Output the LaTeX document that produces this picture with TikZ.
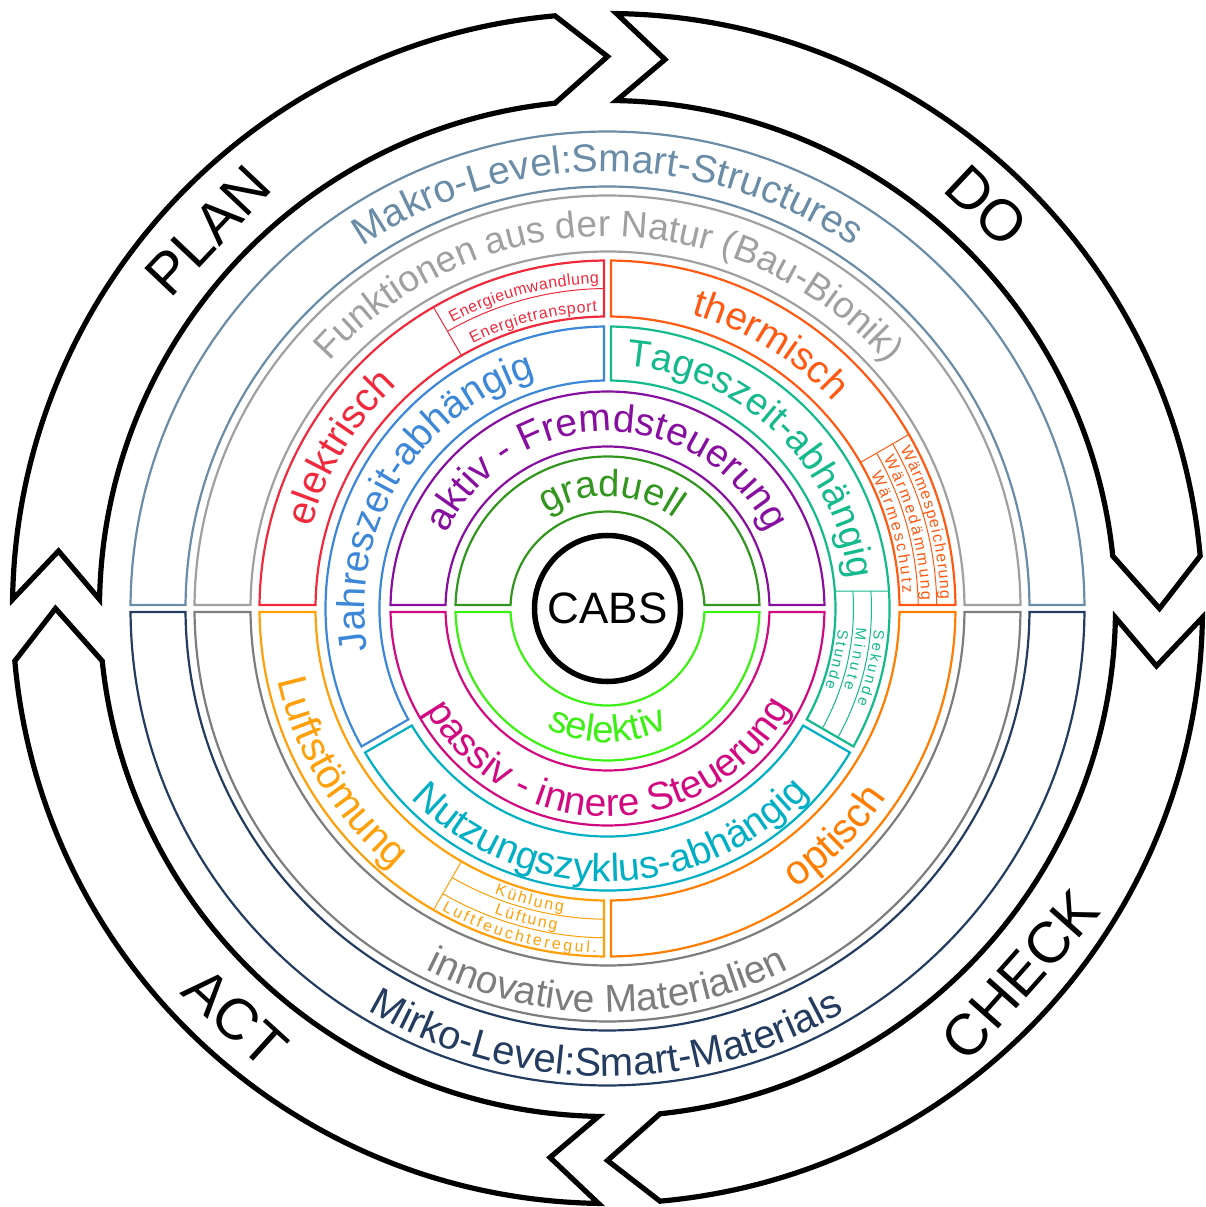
\documentclass[tikz,border=0pt]{standalone}
\usepackage{fontspec}
\setmainfont{Liberation Sans}
\usetikzlibrary{decorations.text}

\definecolor{makro}{RGB}{106,140,166}
\definecolor{mikro}{RGB}{35,60,95}
\definecolor{bionik}{RGB}{160,160,160}
\definecolor{innomat}{RGB}{125,125,125}
\definecolor{elek}{RGB}{240,42,60}
\definecolor{therm}{RGB}{255,90,20}
\definecolor{luft}{RGB}{255,160,10}
\definecolor{opt}{RGB}{255,125,0}
\definecolor{jahr}{RGB}{60,135,215}
\definecolor{tag}{RGB}{20,185,140}
\definecolor{nutz}{RGB}{0,175,195}
\definecolor{aktiv}{RGB}{135,15,160}
\definecolor{passiv}{RGB}{210,10,130}
\definecolor{grad}{RGB}{50,150,30}
\definecolor{selek}{RGB}{60,240,20}

\tikzset{
  ringline/.style={line width=2.2, line join=miter},
  subline/.style={line width=1},
  cycleline/.style={line width=5.2, line join=miter, draw=black},
  cyclelabel/.style={inner sep=0, font=\fontsize{58}{58}\selectfont},
}

% half width of the white gap between neighbouring boxes
\newcommand\hgap{3.5}

% annular box: colour, inner radius, outer radius, from angle, to angle
\newcommand\ringbox[5]{%
  \pgfmathsetmacro\rbOA{#4+asin(\hgap/#3)}%
  \pgfmathsetmacro\rbOB{#5-asin(\hgap/#3)}%
  \pgfmathsetmacro\rbIA{#4+asin(\hgap/#2)}%
  \pgfmathsetmacro\rbIB{#5-asin(\hgap/#2)}%
  \draw[ringline,#1] (\rbOA:#3) arc[start angle=\rbOA, end angle=\rbOB, radius=#3]
     -- (\rbIB:#2) arc[start angle=\rbIB, end angle=\rbIA, radius=#2] -- cycle;}

% text on an arc: radius, from angle, to angle, alignment, format, text
\newcommand\arclabel[6]{%
  \path[decorate, decoration={text along path, text align=#4,
     text={|#5|#6}}] (#2:#1) arc[start angle=#2, end angle=#3, radius=#1];}
\newcommand\toplabel[4]{\arclabel{#1}{#2+85}{#2-85}{center}{#3}{#4}}
\newcommand\botlabel[4]{\arclabel{#1}{#2-85}{#2+85}{center}{#3}{#4}}
\newcommand\lbl[2]{\fontsize{#1}{#1}\selectfont\color{#2}}

\begin{document}
\begin{tikzpicture}[x=1pt,y=1pt]
\useasboundingbox (-607.5,-598.5) rectangle (598.5,608.5);

% PDCA cycle arrows
\foreach \t in {180,90,0,270}{
  \pgfmathsetmacro\aTo{\t-asin(9/595)}
  \pgfmathsetmacro\aTi{\t-asin(9/508)}
  \pgfmathsetmacro\aN{\t-asin(57.5/552)}
  \pgfmathsetmacro\aH{\t-90}
  \pgfmathsetmacro\aHo{\aH+asin(52.5/595)}
  \pgfmathsetmacro\aHi{\aH+asin(52.5/508)}
  \draw[cycleline] (\aTo:595) arc[start angle=\aTo, end angle=\aHo, radius=595]
    -- (\aH:552) -- (\aHi:508) arc[start angle=\aHi, end angle=\aTi, radius=508]
    -- (\aN:552) -- cycle;
}
\node[cyclelabel, rotate=46.6] (plan) at (136.6:550) {PLAN};
\node[cyclelabel, rotate=-43.3] (do) at (46.7:553) {DO};
\node[cyclelabel, rotate=48.4] (check) at (-41.6:552) {CHECK};
\node[cyclelabel, rotate=-42.3] (act) at (227.7:553) {ACT};

% rings
\ringbox{grad}{97}{152}{0}{180}
\ringbox{selek}{97}{152}{180}{360}
\ringbox{aktiv}{162}{217}{0}{180}
\ringbox{passiv}{162}{217}{180}{360}
\ringbox{jahr}{228}{282}{90}{210}
\ringbox{tag}{228}{282}{-30}{90}
\ringbox{nutz}{228}{282}{210}{330}
\ringbox{elek}{292}{348}{90}{180}
\ringbox{therm}{292}{348}{0}{90}
\ringbox{luft}{292}{348}{180}{270}
\ringbox{opt}{292}{348}{270}{360}
\ringbox{bionik}{357}{413}{0}{180}
\ringbox{innomat}{357}{413}{180}{360}
\ringbox{makro}{422}{477}{0}{180}
\ringbox{mikro}{422}{477}{180}{360}

% sub-division: Energie
\draw[subline, elek] (120:292) -- (120:348);
\pgfmathsetmacro\eEnd{90+asin(3.5/320)}
\draw[subline, elek] (120:320) arc[start angle=120, end angle=\eEnd, radius=320];
% sub-division: Waerme
\draw[subline, therm] (30:292) -- (30:348);
\foreach \r in {310.7,329.3}{
  \pgfmathsetmacro\wEnd{asin(3.5/\r)}
  \draw[subline, therm] (30:\r) arc[start angle=30, end angle=\wEnd, radius=\r];}
% sub-division: Lueftung
\draw[subline, luft] (240:292) -- (240:348);
\foreach \r in {310.7,329.3}{
  \pgfmathsetmacro\lEnd{270-asin(3.5/\r)}
  \draw[subline, luft] (240:\r) arc[start angle=240, end angle=\lEnd, radius=\r];}
% sub-division: Zeit
\pgfmathsetmacro\zA{asin(17.5/228)}
\pgfmathsetmacro\zB{asin(17.5/282)}
\draw[subline, tag] (\zA:228) -- (\zB:282);
\foreach \r in {246,264}{
  \pgfmathsetmacro\zS{asin(17.5/\r)}
  \pgfmathsetmacro\zE{-30+asin(3.5/\r)}
  \draw[subline, tag] (\zS:\r) arc[start angle=\zS, end angle=\zE, radius=\r];}

% centre
\node[circle, draw, line width=5.5, minimum size=146, inner sep=0,
      font=\fontsize{44}{44}\selectfont] (cabs) at (0,0) {CABS};

% ring labels
\toplabel{437}{90}{\lbl{39}{makro}}{Makro-Level:Smart-Structures}
\toplabel{372}{89.75}{\lbl{37}{bionik}}{Funktionen aus der Natur (Bau-Bionik)}
\toplabel{307}{148.9}{\lbl{40}{elek}}{elektrisch}
\toplabel{306}{58.3}{\lbl{39}{therm}}{thermisch}
\toplabel{243}{148.5}{\lbl{39}{jahr}}{Jahreszeit-abhängig}
\toplabel{243}{46.2}{\lbl{38}{tag}}{Tageszeit-abhängig}
\toplabel{177}{90.25}{\lbl{39}{aktiv}}{aktiv - Fremdsteuerung}
\toplabel{112}{88}{\lbl{38}{grad}}{graduell}
\botlabel{134}{270}{\lbl{38}{selek}}{selektiv}
\botlabel{208}{270.5}{\lbl{39}{passiv}}{passiv - innere Steuerung}
\botlabel{273}{270.75}{\lbl{39}{nutz}}{Nutzungszyklus-abhängig}
\botlabel{337}{211.5}{\lbl{41}{luft}}{Luftstömung}
\botlabel{337}{315}{\lbl{41}{opt}}{optisch}
\botlabel{404}{270}{\lbl{39}{innomat}}{innovative Materialien}
\botlabel{468}{269.85}{\lbl{40}{mikro}}{Mirko-Level:Smart-Materials}

% small labels
\arclabel{325}{118.5}{91.5}{fit to path}{\lbl{16}{elek}}{Energieumwandlung}
\arclabel{297}{117}{92}{fit to path}{\lbl{16}{elek}}{Energietransport}
\arclabel{333}{28.5}{1.5}{fit to path}{\lbl{16}{therm}}{Wärmespeicherung}
\arclabel{314}{28.5}{1.5}{fit to path}{\lbl{16}{therm}}{Wärmedämmung}
\arclabel{295.5}{27}{3}{fit to path}{\lbl{16}{therm}}{Wärmeschutz}
\arclabel{267.5}{-4.5}{-21}{fit to path}{\lbl{15}{tag}}{Sekunde}
\arclabel{249.5}{-4.4}{-18.7}{fit to path}{\lbl{15}{tag}}{Minute}
\arclabel{231.5}{-5.2}{-20}{fit to path}{\lbl{15}{tag}}{Stunde}
\arclabel{307}{248.4}{261.7}{fit to path}{\lbl{16}{luft}}{Kühlung}
\arclabel{325.5}{249.6}{261}{fit to path}{\lbl{16}{luft}}{Lüftung}
\arclabel{344.5}{241.2}{268.2}{fit to path}{\lbl{16}{luft}}{Luftfeuchteregul.}
\end{tikzpicture}
\end{document}
